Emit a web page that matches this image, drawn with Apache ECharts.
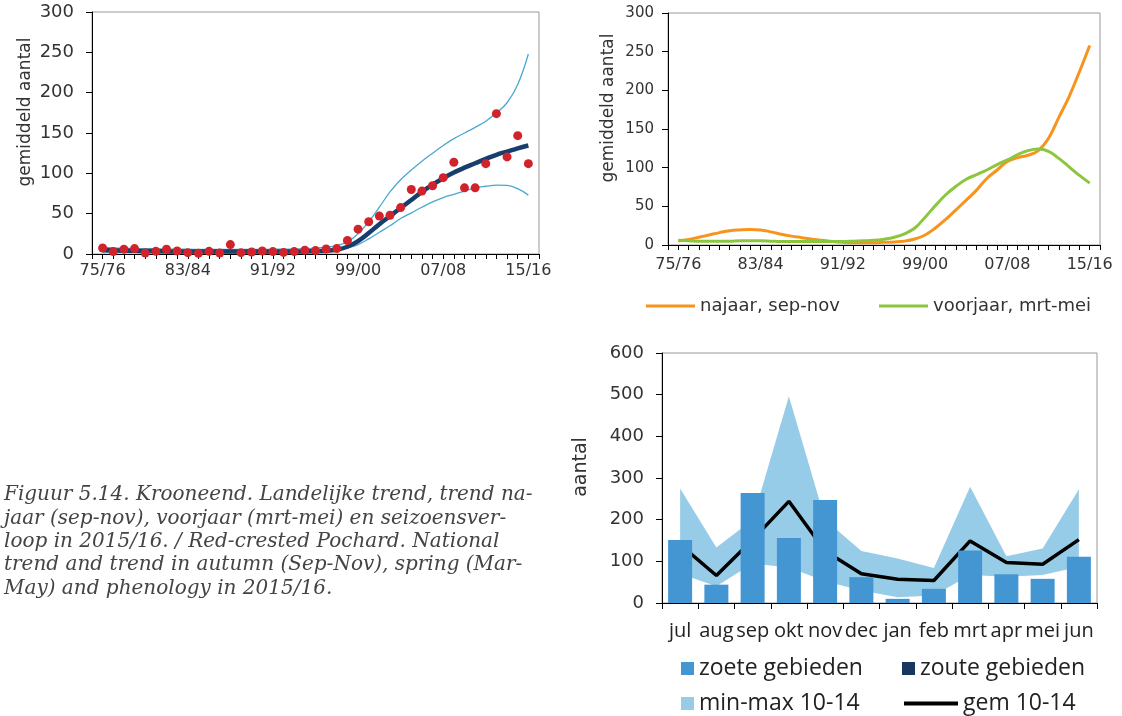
<!DOCTYPE html>
<html>
<head>
<meta charset="utf-8">
<script src="https://cdn.jsdelivr.net/npm/echarts@6/dist/echarts.min.js"></script>
<style>
html,body{margin:0;padding:0;background:#fff;}
#chart{width:1122px;height:716px;}
</style>
</head>
<body>
<div id="chart"></div>
<script>
// ---------- DATA ----------
const seasons = ['75/76','76/77','77/78','78/79','79/80','80/81','81/82','82/83','83/84','84/85',
  '85/86','86/87','87/88','88/89','89/90','90/91','91/92','92/93','93/94','94/95','95/96','96/97',
  '97/98','98/99','99/00','00/01','01/02','02/03','03/04','04/05','05/06','06/07','07/08','08/09',
  '09/10','10/11','11/12','12/13','13/14','14/15','15/16'];

// national index (top-left)
const observed = [7.5, 3, 6, 6.7, 1.3, 3.3, 6, 3.75, 1.7, 1, 3.3, 1.3, 11.7, 1.7, 2.5, 3.75, 3, 2, 3, 4.6,
  4.2, 6.25, 6.7, 16.7, 30.8, 40, 47, 48, 57.5, 80, 78, 84.6, 94.6, 113.75, 82, 82, 112, 174, 120.4, 146.7, 112];
const trend = [5, 4.6, 4.3, 4, 3.7, 3.5, 3.3, 3.2, 3.1, 3, 3, 3, 3, 3, 3, 3, 3, 3, 3.1, 3.3, 3.6,
  4, 5.5, 9, 16, 26, 37, 47, 57, 67, 77, 86, 94, 101, 107, 112.5, 118, 123, 127, 131, 134.5];
const upper = [8, 7.6, 7.2, 6.9, 6.6, 6.4, 6.2, 6, 5.9, 5.8, 5.8, 5.8, 5.8, 5.8, 5.8, 5.8, 5.9, 6, 6.2, 6.6, 7.2,
  8.5, 10.5, 15, 25, 40, 58, 77, 92, 104, 115, 125, 134.6, 143, 150, 157, 164.6, 175, 187.5, 210, 248];
const lower = [2.5, 2.3, 2.1, 2, 1.8, 1.7, 1.6, 1.5, 1.5, 1.5, 1.5, 1.5, 1.5, 1.5, 1.5, 1.5, 1.5, 1.5, 1.6, 1.7, 1.9,
  3, 4.5, 7.5, 11.7, 18.8, 27, 35, 44, 51, 58, 64.6, 70, 74, 78, 82, 84, 85.4, 85, 81, 73];

// seasonal trends (top-right)
const najaar = [5, 7, 10, 13, 16, 18.5, 19.5, 20, 19.5, 17, 14, 11.5, 9.5, 7.5, 6, 4.5, 3.5, 3, 3, 3,
  3.5, 4, 5, 7.7, 13, 22, 33, 45.5, 58, 71, 86, 97, 108, 113, 116, 122, 138, 165, 192, 224, 258];
const voorjaar = [6, 5.5, 5, 5, 5, 5, 5.5, 5.5, 5.5, 5, 4.5, 4.5, 4.5, 4.5, 4.5, 4.5, 4.5, 5, 5.5, 6,
  7.5, 10, 14.5, 22, 36, 51, 65, 76, 85, 91, 97, 104, 110, 117, 122, 124, 121, 112, 101, 90, 80];

// phenology (bottom-right)
const months = ['jul','aug','sep','okt','nov','dec','jan','feb','mrt','apr','mei','jun'];
const zoete = [151, 44, 264, 156, 247, 62, 10, 34, 126, 69, 58, 111];
const zoute = [0, 0, 0, 0, 0, 0, 0, 0, 0, 0, 0, 0];
const minVals = [70, 40, 95, 85, 52, 30, 14, 18, 67, 63, 67, 87];
const maxVals = [275, 133, 200, 496, 200, 125, 107, 84, 279, 112, 131, 273];
const gem = [140, 66, 152, 244, 125, 70, 57, 54, 149, 97, 93, 152];

const caption = [
  'Figuur 5.14. Krooneend. Landelijke trend, trend na-',
  'jaar (sep-nov), voorjaar (mrt-mei) en seizoensver-',
  'loop in 2015/16. / Red-crested Pochard. National',
  'trend and trend in autumn (Sep-Nov), spring (Mar-',
  'May) and phenology in 2015/16.'
];

// ---------- BUILD ----------
const SANS = 'DejaVu Sans';
const TXT = '#333';
const padCats = [''].concat(seasons).concat([' ']);
const pad = arr => ['-'].concat(arr).concat(['-']);
const bandHeight = maxVals.map((v, i) => v - minVals[i]);

function yearAxis(gridIndex, fontSize, margin) {
  return {
    type: 'category', gridIndex, data: padCats, boundaryGap: false,
    axisLine: { lineStyle: { color: '#000', width: 1 } },
    axisTick: { show: true, interval: 0, length: 5, lineStyle: { color: '#000' } },
    axisLabel: { interval: (i) => (i - 1) % 8 === 0 && i >= 1 && i <= 41, color: TXT, fontFamily: SANS, fontSize, margin },
    splitLine: { show: false }
  };
}
function valAxis(gridIndex, max, interval, fontSize, margin, name, nameSize, nameGap, shift) {
  return {
    type: 'value', gridIndex, min: 0, max, interval,
    name, nameLocation: 'middle', nameRotate: 90, nameGap,
    nameTextStyle: { color: TXT, fontFamily: SANS, fontSize: nameSize, padding: [0, 0, 0, shift] },
    axisLine: { show: true, lineStyle: { color: '#000', width: 1 } },
    axisTick: { show: true, length: 6, lineStyle: { color: '#000' } },
    axisLabel: { color: TXT, fontFamily: SANS, fontSize, margin },
    splitLine: { show: false }
  };
}

const graphics = caption.map((t, i) => ({
  type: 'text', x: 4, y: 495 + i * 23.4,
  style: { text: t, font: 'italic 20px "DejaVu Serif"', fill: '#444', verticalAlign: 'middle' }
}));

const legendText = { color: '#222', fontFamily: 'Open Sans', fontSize: 23 };

const chart = echarts.init(document.getElementById('chart'), null, { renderer: 'canvas' });
chart.setOption({
  animation: false,
  backgroundColor: '#fff',
  grid: [
    { left: 92, top: 12, width: 447, height: 242, show: true, borderColor: '#999', borderWidth: 1 },
    { left: 668, top: 13, width: 432, height: 232, show: true, borderColor: '#999', borderWidth: 1 },
    { left: 662, top: 353, width: 435, height: 250, show: true, borderColor: '#999', borderWidth: 1 }
  ],
  xAxis: [
    yearAxis(0, 16, 9),
    yearAxis(1, 16, 12),
    {
      type: 'category', gridIndex: 2, data: months, boundaryGap: true,
      axisLine: { lineStyle: { color: '#000' } },
      axisTick: { show: true, length: 6, lineStyle: { color: '#000' } },
      axisLabel: { color: '#222', fontFamily: 'Open Sans', fontSize: 20, margin: 18, interval: 0 },
      splitLine: { show: false }
    }
  ],
  yAxis: [
    valAxis(0, 300, 50, 18, 18, 'gemiddeld aantal', 17, 58, 42),
    valAxis(1, 300, 50, 15, 14, 'gemiddeld aantal', 17, 51, 42),
    valAxis(2, 600, 100, 18, 18, 'aantal', 19, 71, 22)
  ],
  legend: [
    { data: ['najaar, sep-nov'], left: 646, top: 297, padding: 0, icon: 'rect', itemWidth: 49, itemHeight: 3, itemGap: 5,
      textStyle: { color: TXT, fontFamily: SANS, fontSize: 18 } },
    { data: ['voorjaar, mrt-mei'], left: 879, top: 297, padding: 0, icon: 'rect', itemWidth: 49, itemHeight: 3,
      textStyle: { color: TXT, fontFamily: SANS, fontSize: 18 } },
    { data: ['zoete gebieden'], left: 681, top: 657, padding: 0, icon: 'rect', itemWidth: 13, itemHeight: 13,
      textStyle: legendText },
    { data: ['zoute gebieden'], left: 902, top: 657, padding: 0, icon: 'rect', itemWidth: 13, itemHeight: 13,
      textStyle: legendText },
    { data: ['min-max 10-14'], left: 681, top: 692, padding: 0, icon: 'rect', itemWidth: 13, itemHeight: 13,
      textStyle: legendText },
    { data: ['gem 10-14'], left: 904, top: 692, padding: 0, icon: 'rect', itemWidth: 54, itemHeight: 4,
      textStyle: legendText }
  ],
  graphic: graphics,
  series: [
    // top-left
    { name: 'upper', type: 'line', xAxisIndex: 0, yAxisIndex: 0, data: pad(upper), smooth: 0.4, symbol: 'none',
      lineStyle: { color: '#4AA8D0', width: 1.3 }, z: 2 },
    { name: 'lower', type: 'line', xAxisIndex: 0, yAxisIndex: 0, data: pad(lower), smooth: 0.4, symbol: 'none',
      lineStyle: { color: '#4AA8D0', width: 1.3 }, z: 2 },
    { name: 'trend', type: 'line', xAxisIndex: 0, yAxisIndex: 0, data: pad(trend), smooth: 0.4, symbol: 'none',
      lineStyle: { color: '#173F6E', width: 4.5 }, z: 3 },
    { name: 'observed', type: 'scatter', xAxisIndex: 0, yAxisIndex: 0, data: pad(observed), symbolSize: 9,
      itemStyle: { color: '#D1232A', opacity: 1 }, z: 4 },
    // top-right
    { name: 'najaar, sep-nov', type: 'line', xAxisIndex: 1, yAxisIndex: 1, data: pad(najaar), smooth: 0.4, symbol: 'none',
      itemStyle: { color: '#F7941D' }, lineStyle: { color: '#F7941D', width: 3 } },
    { name: 'voorjaar, mrt-mei', type: 'line', xAxisIndex: 1, yAxisIndex: 1, data: pad(voorjaar), smooth: 0.4, symbol: 'none',
      itemStyle: { color: '#8CC63F' }, lineStyle: { color: '#8CC63F', width: 3 } },
    // bottom-right
    { name: 'minBase', type: 'line', xAxisIndex: 2, yAxisIndex: 2, data: minVals, stack: 'band', symbol: 'none',
      lineStyle: { opacity: 0 }, z: 1 },
    { name: 'min-max 10-14', type: 'line', xAxisIndex: 2, yAxisIndex: 2, data: bandHeight, stack: 'band', symbol: 'none',
      itemStyle: { color: '#97CCE8' }, lineStyle: { opacity: 0, width: 0 }, areaStyle: { color: '#97CCE8', opacity: 1 }, z: 1 },
    { name: 'gem 10-14', type: 'line', xAxisIndex: 2, yAxisIndex: 2, data: gem, symbol: 'none',
      itemStyle: { color: '#000' }, lineStyle: { color: '#000', width: 3.5 }, z: 2 },
    { name: 'zoete gebieden', type: 'bar', xAxisIndex: 2, yAxisIndex: 2, data: zoete, stack: 'bars', barWidth: 24,
      itemStyle: { color: '#4496D2' }, z: 3 },
    { name: 'zoute gebieden', type: 'bar', xAxisIndex: 2, yAxisIndex: 2, data: zoute, stack: 'bars', barWidth: 24,
      itemStyle: { color: '#17375E' }, z: 3 }
  ]
});
</script>
</body>
</html>
